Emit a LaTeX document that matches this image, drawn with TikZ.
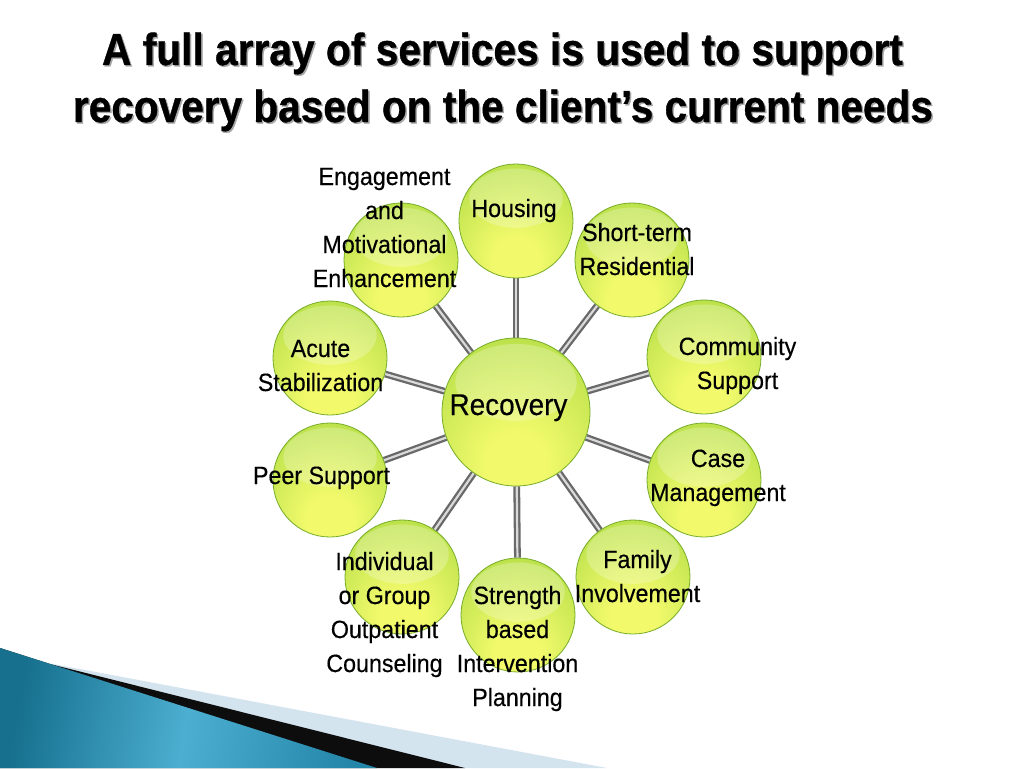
\documentclass[tikz,border=0pt]{standalone}
\usepackage{fontspec}
\usepackage{graphicx}
\setmainfont{Liberation Sans}
\newfontfamily\lblfont[FakeStretch=0.93, FakeBold=0.3]{Liberation Sans}
\newfontfamily\titlefam[FakeBold=0.9]{Liberation Sans Bold}
\pgfdeclarelayer{bg}
\pgfsetlayers{bg,main}
\definecolor{ballA}{RGB}{242,250,108}
\definecolor{ballB}{RGB}{192,228,78}
\definecolor{ballC}{RGB}{142,198,46}
\definecolor{ballrim}{RGB}{118,172,40}
\definecolor{roddark}{RGB}{105,105,105}
\definecolor{rodlight}{RGB}{218,218,218}
\definecolor{tealdark}{RGB}{22,112,142}
\definecolor{teallight}{RGB}{76,174,208}
\definecolor{tealmid}{RGB}{36,134,168}
\definecolor{paleband}{RGB}{212,228,238}
\pgfdeclareradialshading{ballshade}{\pgfpoint{0bp}{-20bp}}{%
  color(0bp)=(ballA); color(10bp)=(ballA); color(34bp)=(ballB);
  color(56bp)=(ballC); color(80bp)=(ballC)}
\tikzset{
  ball/.style={circle, draw=ballrim, line width=0.8pt, shade, shading=ballshade, inner sep=0pt},
  rod/.style={draw=roddark, double=rodlight, double distance=2.2pt, line width=2.3pt},
  lbl/.style={inner sep=0pt, align=center, anchor=base, text=black,
    font=\lblfont\fontsize{25}{34}\selectfont},
  titlestyle/.style={inner sep=0pt, anchor=base, font=\titlefam\fontsize{44}{50}\selectfont}
}
\newcommand\gloss[2]{%
  \fill[white, opacity=0.24] ([yshift={0.4*#2}]#1.center) ellipse [x radius={0.82*#2}, y radius={0.52*#2}];}
\begin{document}
\begin{tikzpicture}[x=1pt,y=-1pt]
\useasboundingbox (0,0) rectangle (1024,768);
\begin{pgfonlayer}{bg}
  \fill[white] (0,0) rectangle (1024,768);
\end{pgfonlayer}

% bottom-left decoration
\fill[paleband] (0,648) -- (48,663) -- (607,768) -- (0,768) -- cycle;
\fill[black!95] (0,648) -- (50,664) -- (465,768) -- (0,768) -- cycle;
\shade[left color=tealdark, right color=tealmid, middle color=teallight, shading angle=80]
  (0,648) -- (377,768) -- (0,768) -- cycle;

% title
\node[titlestyle, text=black!35] (t1s) at (504,66.5) {\resizebox{801pt}{32.5pt}{A full array of services is used to support}};
\node[titlestyle] (t1) at (502.5,65) {\resizebox{801pt}{32.5pt}{A full array of services is used to support}};
\node[titlestyle, text=black!35] (t2s) at (504.5,123.5) {\resizebox{860pt}{32.5pt}{recovery based on the client’s current needs}};
\node[titlestyle] (t2) at (503,122) {\resizebox{860pt}{32.5pt}{recovery based on the client’s current needs}};

% balls
\node[ball, minimum size=148pt] (rec) at (516,412) {};
\foreach \n/\x/\y in {hous/516/221, short/632/260, comm/704/357, case/704/480, fam/633/577,
  str/518/615, ind/402/577, peer/330/480, acute/330/358, eng/401/260}{
  \node[ball, minimum size=114pt] (\n) at (\x,\y) {};
  \gloss{\n}{57pt}
}
\gloss{rec}{74pt}

% rods
\begin{pgfonlayer}{bg}
\foreach \n in {hous,short,comm,case,fam,str,ind,peer,acute,eng}{
  \draw[rod] (rec) -- (\n);
}
\end{pgfonlayer}

% labels (base anchor = baseline of the last line)
\node[lbl, font=\lblfont\fontsize{30}{34}\selectfont] (lrec) at (508.5,415) {Recovery};
\node[lbl] (lhous) at (514,217) {Housing};
\node[lbl] (lshort) at (637,275) {Short-term\\Residential};
\node[lbl] (lcomm) at (737.5,389) {Community\\Support};
\node[lbl] (lcase) at (718,501) {Case\\Management};
\node[lbl] (lfam) at (637.5,602) {Family\\Involvement};
\node[lbl] (lstr) at (517.5,706) {Strength\\based\\Intervention\\Planning};
\node[lbl] (lind) at (384.5,672) {Individual\\or Group\\Outpatient\\Counseling};
\node[lbl] (lpeer) at (321.5,484) {Peer Support};
\node[lbl] (lacute) at (320.5,391) {Acute\\Stabilization};
\node[lbl] (leng) at (384.5,287) {Engagement\\and\\Motivational\\Enhancement};
\end{tikzpicture}
\end{document}
